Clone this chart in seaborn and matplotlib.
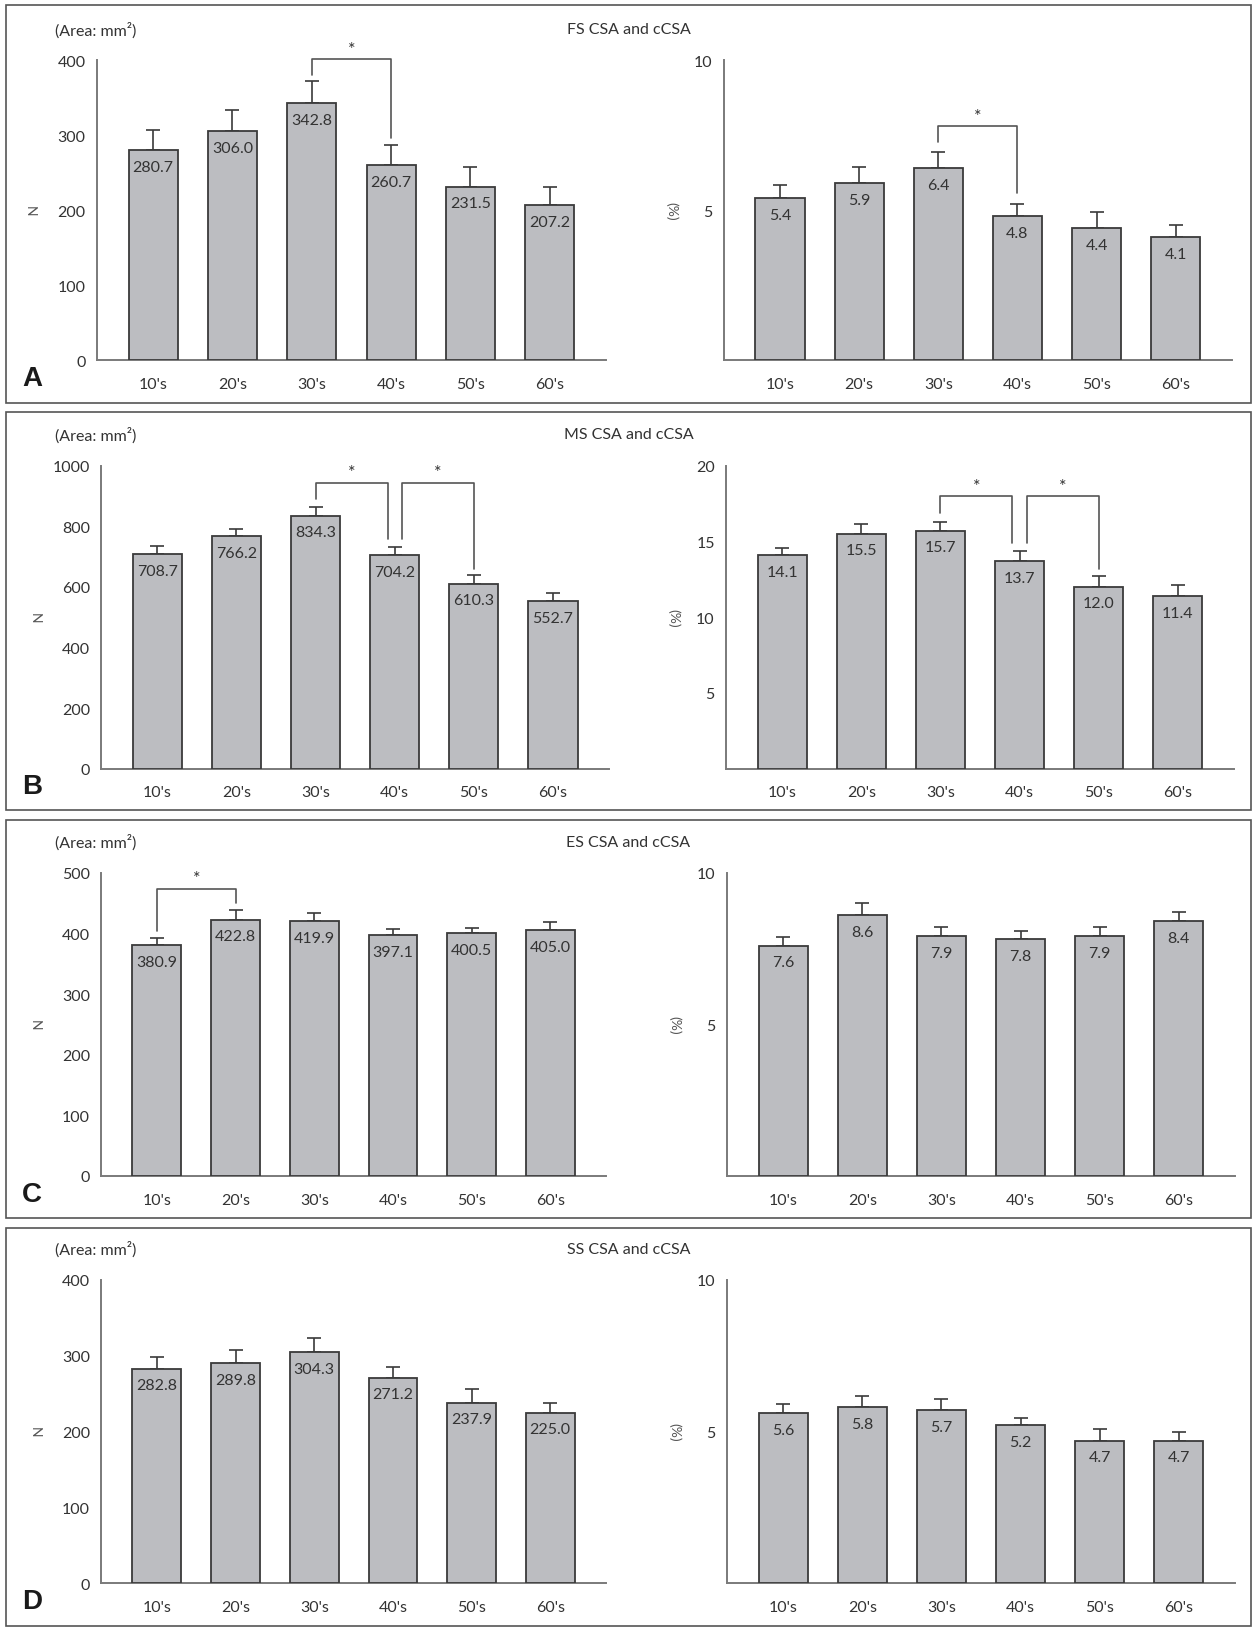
import matplotlib
matplotlib.use("Agg")
import matplotlib.pyplot as plt
import seaborn as sns
import numpy as np
import pandas as pd

# age groups
groups = ["10's", "20's", "30's", "40's", "50's", "60's"]

# FS
fs_csa = [280.7, 306.0, 342.8, 260.7, 231.5, 207.2]
fs_csa_err = [27, 28, 30, 27, 26.5, 24]
fs_ccsa = [5.4, 5.9, 6.4, 4.8, 4.4, 4.1]
fs_ccsa_err = [0.45, 0.54, 0.55, 0.4, 0.54, 0.4]

# MS
ms_csa = [708.7, 766.2, 834.3, 704.2, 610.3, 552.7]
ms_csa_err = [27, 26, 28, 28, 30, 28]
ms_ccsa = [14.1, 15.5, 15.7, 13.7, 12.0, 11.4]
ms_ccsa_err = [0.48, 0.66, 0.57, 0.64, 0.7, 0.73]

# ES
es_csa = [380.9, 422.8, 419.9, 397.1, 400.5, 405.0]
es_csa_err = [11, 16.5, 14, 9.5, 9, 14]
es_ccsa = [7.6, 8.6, 7.9, 7.8, 7.9, 8.4]
es_ccsa_err = [0.27, 0.4, 0.32, 0.27, 0.3, 0.3]

# SS
ss_csa = [282.8, 289.8, 304.3, 271.2, 237.9, 225.0]
ss_csa_err = [15, 18.4, 19.3, 14.5, 18, 12.7]
ss_ccsa = [5.6, 5.8, 5.7, 5.2, 4.7, 4.7]
ss_ccsa_err = [0.3, 0.38, 0.36, 0.25, 0.38, 0.27]

# significance brackets: (x_left, x_right, y_top, y_left_end, y_right_end)
fs_csa_sig = [(2, 3, 402, 381, 297)]
fs_ccsa_sig = [(2, 3, 7.8, 7.27, 5.58)]
ms_csa_sig = [(2, 2.91, 943, 890, 758), (3.09, 4, 943, 758, 659)]
ms_ccsa_sig = [(2, 2.91, 17.96, 16.9, 14.9), (3.09, 4, 17.96, 14.9, 13.2)]
es_csa_sig = [(0, 1, 474, 403.5, 450)]

panels = [
    dict(letter="A", title="FS CSA and cCSA",
         left=(fs_csa, fs_csa_err, 400, [0, 100, 200, 300, 400], fs_csa_sig),
         right=(fs_ccsa, fs_ccsa_err, 10, [5, 10], fs_ccsa_sig),
         box=(6, 388), ax_top=59, ax_bot=347, lx=(93, 582), rx=(695, 1183)),
    dict(letter="B", title="MS CSA and cCSA",
         left=(ms_csa, ms_csa_err, 1000, [0, 200, 400, 600, 800, 1000], ms_csa_sig),
         right=(ms_ccsa, ms_ccsa_err, 20, [5, 10, 15, 20], ms_ccsa_sig),
         box=(397, 779), ax_top=448, ax_bot=739, lx=(97, 585), rx=(697, 1185)),
    dict(letter="C", title="ES CSA and cCSA",
         left=(es_csa, es_csa_err, 500, [0, 100, 200, 300, 400, 500], es_csa_sig),
         right=(es_ccsa, es_ccsa_err, 10, [5, 10], []),
         box=(788, 1170), ax_top=839, ax_bot=1130, lx=(97, 582), rx=(698, 1186)),
    dict(letter="D", title="SS CSA and cCSA",
         left=(ss_csa, ss_csa_err, 400, [0, 100, 200, 300, 400], []),
         right=(ss_ccsa, ss_ccsa_err, 10, [5, 10], []),
         box=(1180, 1562), ax_top=1230, ax_bot=1521, lx=(97, 582), rx=(698, 1186)),
]

sns.set_style("white")
plt.rcParams['font.family'] = ['Lato', 'DejaVu Sans']

W, H = 1207.0, 1568.0  # layout measured on the shrunk reference
fig = plt.figure(figsize=(12.57, 16.33), dpi=100)

BAR = "#bcbdc1"
EDGE = "#3a3a3a"
AXC = "#7a7a7a"
TXT = "#333333"


def draw(ax, vals, errs, ymax, ticks, sigs, ylabel, label_x):
    df = pd.DataFrame({"group": groups, "value": vals})
    sns.barplot(data=df, x="group", y="value", ax=ax, color=BAR, saturation=1,
                edgecolor=EDGE, linewidth=1.3, width=0.62, errorbar=None, zorder=3)
    x = np.arange(len(vals))
    ax.errorbar(x, vals, yerr=[np.zeros(len(errs)), errs], fmt="none",
                ecolor=EDGE, elinewidth=1.2, capsize=5, capthick=1.2, zorder=2)
    for i, v in enumerate(vals):
        ax.annotate(f"{v:.1f}", (i, v), xytext=(0, -12), textcoords="offset points",
                    ha="center", va="center", fontsize=11.5, color=TXT, zorder=4)
    for (x1, x2, yt, yl, yr) in sigs:
        ax.plot([x1, x1, x2, x2], [yl, yt, yt, yr], color="#555555", lw=1.2,
                clip_on=False, zorder=4)
        ax.text((x1 + x2) / 2, yt + ymax * 0.008, "*", ha="center", va="bottom",
                fontsize=13, color=TXT)
    ax.set_xlim(-0.71, 5.71)
    ax.set_ylim(0, ymax)
    ax.set_yticks(ticks)
    ax.set_xlabel("")
    ax.set_ylabel(ylabel, rotation=270, fontsize=10, color="#555555", va="center")
    ax.yaxis.set_label_coords(label_x, 0.5)
    ax.tick_params(axis="both", length=0, labelsize=11.5, labelcolor=TXT)
    ax.tick_params(axis="y", pad=8)
    ax.tick_params(axis="x", pad=12)
    for s in ["top", "right"]:
        ax.spines[s].set_visible(False)
    for s in ["left", "bottom"]:
        ax.spines[s].set_color(AXC)
        ax.spines[s].set_linewidth(1.4)


for p in panels:
    b0, b1 = p["box"]
    fig.patches.append(plt.Rectangle((6 / W, 1 - b1 / H), (1201 - 6) / W, (b1 - b0) / H,
                                     transform=fig.transFigure, fill=False,
                                     edgecolor="#555555", lw=1.2))
    bottom = 1 - p["ax_bot"] / H
    height = (p["ax_bot"] - p["ax_top"]) / H
    axl = fig.add_axes([p["lx"][0] / W, bottom, (p["lx"][1] - p["lx"][0]) / W, height])
    axr = fig.add_axes([p["rx"][0] / W, bottom, (p["rx"][1] - p["rx"][0]) / W, height])
    draw(axl, *p["left"], ylabel="N", label_x=-0.131)
    draw(axr, *p["right"], ylabel="(%)", label_x=-0.102)

    ty = 1 - (p["ax_top"] - 30) / H
    fig.text(53 / W, ty, "(Area: mm²)", ha="left", va="center", fontsize=11.5, color=TXT)
    fig.text(0.5, ty, p["title"], ha="center", va="center", fontsize=11.5, color=TXT)
    fig.text(21 / W, 1 - (p["ax_bot"] + 17) / H, p["letter"], ha="left", va="center",
             fontsize=20, fontweight="bold", family=["Liberation Sans", "DejaVu Sans"],
             color="#1a1a1a")

fig.savefig("out.png", dpi=100)
